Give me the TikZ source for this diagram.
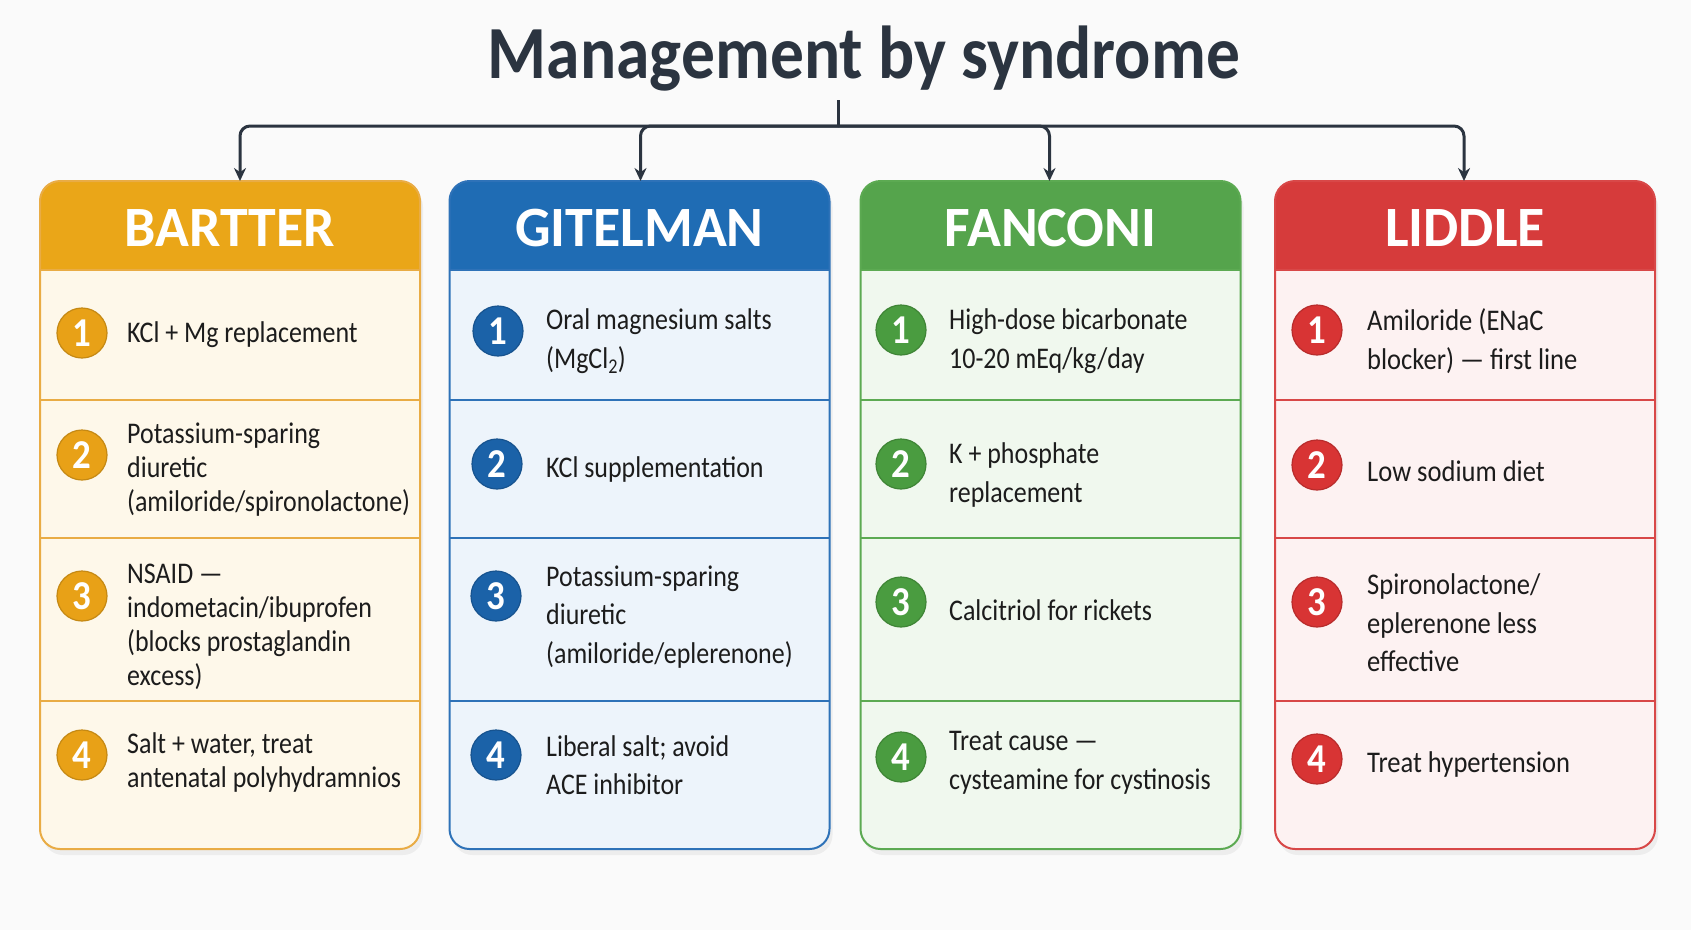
\documentclass[tikz,border=0pt]{standalone}
\usepackage{fontspec}
\setmainfont{Carlito}
\newfontfamily\bodyfont{Carlito}[FakeStretch=0.865]
\newfontfamily\liddlefont{Carlito}[FakeStretch=0.885]
\newfontfamily\titlefont{Carlito}[FakeStretch=0.9]
\newfontfamily\headfont{Carlito}[FakeStretch=0.98]
\usetikzlibrary{arrows.meta,shadows}
\definecolor{bg}{HTML}{FAFAFA}
\definecolor{ink}{HTML}{2B3440}
\definecolor{txt}{HTML}{1C1C1C}
\definecolor{orH}{HTML}{EAA618}
\definecolor{orB}{HTML}{FEF8EA}
\definecolor{orL}{HTML}{E9AC45}
\definecolor{orC}{HTML}{E8A117}
\definecolor{blH}{HTML}{1F6CB4}
\definecolor{blB}{HTML}{EDF4FB}
\definecolor{blL}{HTML}{2E72B8}
\definecolor{blC}{HTML}{1B62A8}
\definecolor{grH}{HTML}{55A44C}
\definecolor{grB}{HTML}{F0F8EE}
\definecolor{grL}{HTML}{5CAA52}
\definecolor{grC}{HTML}{4A9C40}
\definecolor{rdH}{HTML}{D63B3B}
\definecolor{rdB}{HTML}{FDF2F2}
\definecolor{rdL}{HTML}{D84848}
\definecolor{rdC}{HTML}{D83434}
\tikzset{
  colbox/.style={fill=#1B, inner sep=0, outer sep=0, minimum width=380, minimum height=668,
    rounded corners=20, drop shadow={opacity=0.10, shadow xshift=3pt, shadow yshift=-6pt}},
  headtxt/.style={text=white, font=\headfont\bfseries\fontsize{57}{60}\selectfont, inner sep=0},
  num/.style={circle, fill=#1C, draw=#1C!85!black, line width=1.2, minimum size=50, inner sep=0,
    text=white, font=\titlefont\bfseries\fontsize{41}{41}\selectfont},
  item/.style={anchor=west, align=left, inner sep=0, text=txt,
    font=\bodyfont\fontsize{30}{38.5}\selectfont},
  itemB/.style={item, font=\bodyfont\fontsize{30}{34}\selectfont},
  itemL/.style={item, font=\liddlefont\fontsize{30}{38.5}\selectfont},
  conn/.style={draw=ink, line width=3, rounded corners=10},
  tip/.style={-{Stealth[length=13,width=12]}}
}
\newcommand{\column}[3]{%
  % #1 node name, #2 colour prefix, #3 header text
  \begin{scope}
    \clip[rounded corners=20] (#1.north west) rectangle (#1.south east);
    \fill[#2H] (#1.north west) rectangle ([yshift=-89]#1.north east);
  \end{scope}
  \draw[#2L, line width=2] ([yshift=-89]#1.north west) -- ([yshift=-89]#1.north east);
  \foreach \yy in {400,538,701}{\draw[#2L, line width=1.5] (#1.west |- 0,\yy) -- (#1.east |- 0,\yy);}
  \draw[#2L, line width=2, rounded corners=20] (#1.north west) rectangle (#1.south east);
  \node[headtxt] (#1T) at ([yshift=-47]#1.north) {#3};
}
\begin{document}
\begin{tikzpicture}[x=1pt,y=-1pt]
\fill[bg] (0,0) rectangle (1691,930);
\useasboundingbox (0,0) rectangle (1691,930);

\node[text=ink, anchor=base, inner sep=0, font=\titlefont\bfseries\fontsize{75}{80}\selectfont] (title) at (864,78) {Management by syndrome};

% boxes
\node[colbox=or] (bartter) at (230,515) {};
\node[colbox=bl] (gitelman) at (639.5,515) {};
\node[colbox=gr] (fanconi) at (1050.5,515) {};
\node[colbox=rd] (liddle) at (1465,515) {};
\column{bartter}{or}{BARTTER}
\column{gitelman}{bl}{GITELMAN}
\column{fanconi}{gr}{FANCONI}
\column{liddle}{rd}{LIDDLE}

% connectors
\coordinate (stemtop) at (838,100);
\coordinate (hub) at (838,126);
\draw[conn] (stemtop) -- (hub);
\draw[conn,tip] (hub) -| ([xshift=10]bartter.north);
\draw[conn,tip] (hub) -| ([xshift=1]gitelman.north);
\draw[conn,tip] (hub) -| ([xshift=-1]fanconi.north);
\draw[conn,tip] (hub) -| ([xshift=-1]liddle.north);

% Bartter
\node[num=or] (b1) at (82,333) {1};
\node[num=or] (b2) at (82,455) {2};
\node[num=or] (b3) at (82,596) {3};
\node[num=or] (b4) at (82,755) {4};
\node[itemB] (b1t) at (127,335) {KCl + Mg replacement};
\node[itemB] (b2t) at (127,470) {Potassium-sparing\\diuretic\\(amiloride/spironolactone)};
\node[itemB] (b3t) at (127,627) {NSAID —\\indometacin/ibuprofen\\(blocks prostaglandin\\excess)};
\node[itemB] (b4t) at (127,762) {Salt + water, treat\\antenatal polyhydramnios};

% Gitelman
\node[num=bl] (g1) at (498,331) {1};
\node[num=bl] (g2) at (497,464) {2};
\node[num=bl] (g3) at (496,596) {3};
\node[num=bl] (g4) at (496,755) {4};
\node[item] (g1t) at (546,341) {Oral magnesium salts\\(MgCl\textsubscript{2})};
\node[item] (g2t) at (546,469) {KCl supplementation};
\node[item] (g3t) at (546,617) {Potassium-sparing\\diuretic\\(amiloride/eplerenone)};
\node[item] (g4t) at (546,765) {Liberal salt; avoid\\ACE inhibitor};

% Fanconi
\node[num=gr] (f1) at (901,330) {1};
\node[num=gr] (f2) at (901,464) {2};
\node[num=gr] (f3) at (901,602) {3};
\node[num=gr] (f4) at (901,757) {4};
\node[item] (f1t) at (949,341) {High-dose bicarbonate\\10-20 mEq/kg/day};
\node[item] (f2t) at (949,475) {K + phosphate\\replacement};
\node[item] (f3t) at (949,610) {Calcitriol for rickets};
\node[item] (f4t) at (949,763) {Treat cause —\\cysteamine for cystinosis};

% Liddle
\node[num=rd] (l1) at (1317,330) {1};
\node[num=rd] (l2) at (1317,465) {2};
\node[num=rd] (l3) at (1317,602) {3};
\node[num=rd] (l4) at (1317,759) {4};
\node[itemL] (l1t) at (1367,341) {Amiloride (ENaC\\blocker) — first line};
\node[itemL] (l2t) at (1367,471) {Low sodium diet};
\node[itemL] (l3t) at (1367,623) {Spironolactone/\\eplerenone less\\effective};
\node[itemL] (l4t) at (1367,764) {Treat hypertension};
\end{tikzpicture}
\end{document}
